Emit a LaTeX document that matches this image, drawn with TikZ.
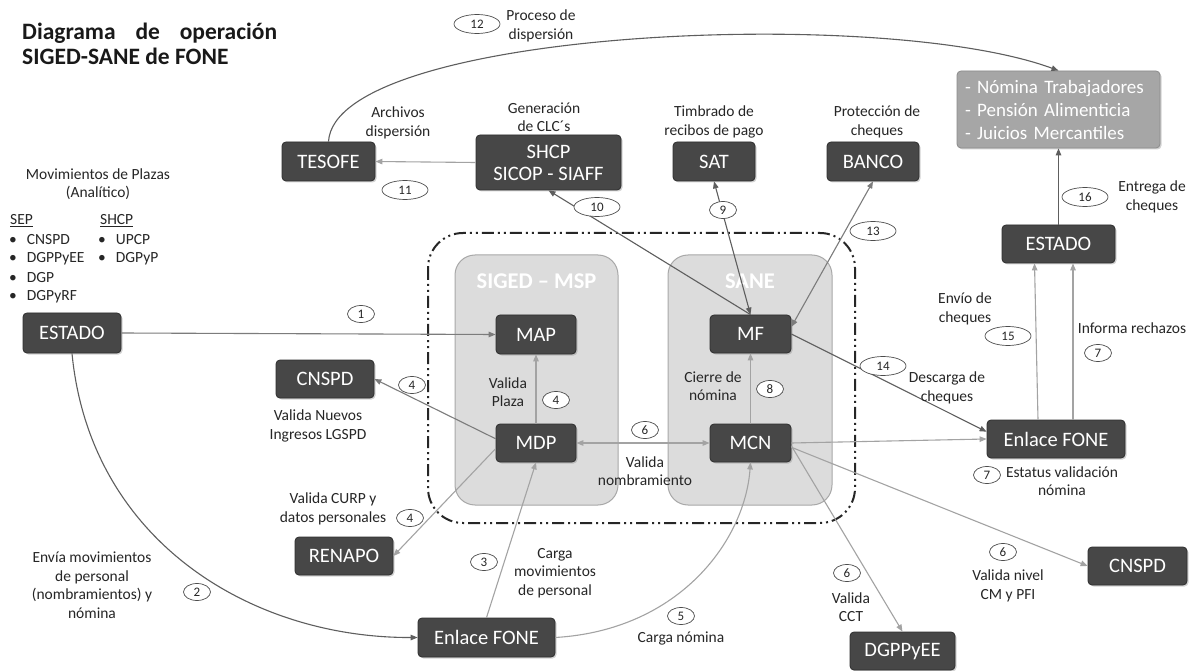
\documentclass[tikz,border=0pt]{standalone}
\usepackage{fontspec}
\setmainfont{Carlito}
\usetikzlibrary{arrows.meta,shapes.geometric,shadows,calc}
\definecolor{boxfill}{HTML}{474747}
\definecolor{boxdraw}{HTML}{2E2E2E}
\definecolor{panelfill}{HTML}{DCDCDC}
\definecolor{paneldraw}{HTML}{A8A8A8}
\definecolor{listfill}{HTML}{A6A6A6}
\definecolor{txt}{HTML}{262626}
\definecolor{darkline}{HTML}{5E5E5E}
\definecolor{midline}{HTML}{7C7C7C}
\definecolor{lightline}{HTML}{A3A3A3}
\begin{document}
\begin{tikzpicture}[x=1pt,y=-1pt,
  >={Triangle[length=7pt,width=5.5pt]},
  box/.style={rectangle,rounded corners=4pt,fill=boxfill,draw=boxdraw,line width=0.8pt,
    text=white,font=\fontsize{20.5}{22}\selectfont,inner sep=0pt,align=center,
    drop shadow={shadow xshift=1.5pt,shadow yshift=-1.5pt,opacity=0.35}},
  panel/.style={rectangle,rounded corners=20pt,fill=panelfill,draw=paneldraw,line width=1pt,inner sep=0pt},
  ptitle/.style={text=white,font=\bfseries\fontsize{22.5}{24}\selectfont,inner sep=0pt},
  lbl/.style={align=center,font=\fontsize{15.5}{18.5}\selectfont,text=txt,inner sep=0pt},
  num/.style={ellipse,draw=black!70,fill=white,line width=0.7pt,font=\fontsize{13}{13}\selectfont,
    text=txt,minimum width=27pt,minimum height=17pt,inner sep=0pt},
  numw/.style={num,minimum width=46pt,minimum height=19pt},
  ln/.style={line width=1.1pt},
  lnd/.style={ln,draw=darkline},
  lnm/.style={ln,draw=midline},
  lnl/.style={ln,draw=lightline},
]
\useasboundingbox (0,0) rectangle (1195,671);
\fill[white] (0,0) rectangle (1195,671);

% title
\node[anchor=base west,inner sep=0pt,font=\bfseries\fontsize{23.5}{25}\selectfont,text=black!90] (t1) at (22,40) {\makebox[255pt][s]{Diagrama de operación}};
\node[anchor=base west,inner sep=0pt,font=\bfseries\fontsize{23.5}{25}\selectfont,text=black!90] (t2) at (22,65) {SIGED-SANE de FONE};

% dash-dot frame and panels
\draw[line width=2pt,black!85,dash pattern=on 12pt off 4pt on 2pt off 4pt on 2pt off 4pt,rounded corners=35pt] (428,233) rectangle (855,523);
\node[panel,minimum width=163pt,minimum height=250pt] (p1) at (536.5,380) {};
\node[panel,minimum width=164pt,minimum height=250pt] (p2) at (750,380) {};
\node[ptitle] (p1t) at (536.5,281) {SIGED – MSP};
\node[ptitle] (p2t) at (750,281) {SANE};

% boxes
\node[box,minimum width=93pt,minimum height=39pt] (tesofe) at (328.5,161.5) {TESOFE};
\node[box,minimum width=145pt,minimum height=55pt,font=\fontsize{20.5}{22}\selectfont] (shcp) at (548.5,162.5) {SHCP\\SICOP - SIAFF};
\node[box,minimum width=82pt,minimum height=39pt] (sat) at (714,161.5) {SAT};
\node[box,minimum width=92pt,minimum height=39pt] (banco) at (873,161.5) {BANCO};
\node[box,fill=listfill,draw=black!45,minimum width=203pt,minimum height=77pt,align=left,
  font=\fontsize{19}{23}\selectfont,text width=187pt] (nom) at (1058.5,109.5) {- Nómina Trabajadores\\- Pensión Alimenticia\\- Juicios Mercantiles};
\node[box,minimum width=98pt,minimum height=40pt] (estL) at (72,333) {ESTADO};
\node[box,minimum width=98pt,minimum height=38pt] (cnspdL) at (325,379) {CNSPD};
\node[box,minimum width=98pt,minimum height=38pt] (renapo) at (344,556) {RENAPO};
\node[box,minimum width=137pt,minimum height=39pt] (enlB) at (486.5,637.5) {Enlace FONE};
\node[box,minimum width=80pt,minimum height=39pt] (map) at (536,334.5) {MAP};
\node[box,minimum width=80pt,minimum height=38pt] (mdp) at (536,443) {MDP};
\node[box,minimum width=81pt,minimum height=38pt] (mf) at (750.5,334) {MF};
\node[box,minimum width=81pt,minimum height=38pt] (mcn) at (750.5,443) {MCN};
\node[box,minimum width=113pt,minimum height=38pt] (estR) at (1058.5,244) {ESTADO};
\node[box,minimum width=138pt,minimum height=38pt] (enlR) at (1056,439) {Enlace FONE};
\node[box,minimum width=99pt,minimum height=38pt] (cnspdR) at (1137.5,566) {CNSPD};
\node[box,minimum width=105pt,minimum height=38pt] (dgpp) at (902.5,651) {DGPPyEE};

% connectors
\draw[lnd,->] (tesofe.north) .. controls (335,30) and (880,5) .. (nom.north);
\draw[lnl,->] (shcp.west) -- (tesofe.east);
\draw[lnd,->] (mf.north) -- (shcp.south);
\draw[lnd,<->] (mf.north) -- (sat.south);
\draw[lnm,<->] (mf.10) -- (banco.south);
\draw[lnd,->] (mf.east) -- (enlR.174);
\draw[lnm,->] (estL.east) -- (map.west);
\draw[lnd,->] (estL.south) .. controls (90,540) and (250,638) .. (enlB.west);
\draw[lnl,->] (enlB.north) -- (mdp.south);
\draw[lnl,->] (enlB.east) .. controls (680,630) and (745,540) .. (mcn.south);
\draw[lnl,->] (mdp.north) -- (map.south);
\draw[lnm,->] (mdp.174) -- (cnspdL.east);
\draw[lnl,->] (mdp.188) -- (renapo.east);
\draw[lnl,<->] (mdp.east) -- (mcn.west);
\draw[lnl,->] (mcn.north) -- (mf.south);
\draw[lnl,->] (mcn.east) -- (enlR.west);
\draw[lnl,->] (mcn.-6) -- (cnspdR.west);
\draw[lnl,->] (mcn.-4) -- (dgpp.north);
\draw[lnl,->] ($(enlR.north)+(-18,0)$) -- ($(estR.south)+(-24,0)$);
\draw[lnl,->] ($(enlR.north)+(17,0)$) -- ($(estR.south)+(14.5,0)$);
\draw[lnd,->] (estR.north) -- (nom.south);

% labels
\node[lbl] (lArch) at (398,123) {Archivos\\dispersión};
\node[lbl] (lGen) at (544,117) {Generación\\de CLC´s};
\node[lbl] (lTim) at (714,122) {Timbrado de\\recibos de pago};
\node[lbl] (lPro) at (877,122) {Protección de\\cheques};
\node[lbl] (lDis) at (541,26) {Proceso de\\dispersión};
\node[lbl] (lEnt) at (1152,197) {Entrega de\\cheques};
\node[lbl] (lMov) at (98,184) {Movimientos de Plazas\\(Analítico)};
\node[lbl] (lVN) at (318,426) {Valida Nuevos\\Ingresos LGSPD};
\node[lbl] (lVP) at (508,392) {Valida\\Plaza};
\node[lbl] (lCie) at (713,386) {Cierre de\\nómina};
\node[lbl] (lVNom) at (645,471) {Valida\\nombramiento};
\node[lbl] (lCurp) at (333,509) {Valida CURP y\\datos personales};
\node[lbl] (lEnv) at (92,585) {Envía movimientos\\de personal\\(nombramientos) y\\nómina};
\node[lbl] (lCM) at (555,573) {Carga\\movimientos\\de personal};
\node[lbl] (lCN) at (681,638) {Carga nómina};
\node[lbl] (lEC) at (965,309) {Envío de\\cheques};
\node[lbl] (lIR) at (1132,328) {Informa rechazos};
\node[lbl] (lDC) at (947,388) {Descarga de\\cheques};
\node[lbl] (lEV) at (1062,481) {Estatus validación\\nómina};
\node[lbl] (lVC) at (1008,586) {Valida nivel\\CM y PFI};
\node[lbl] (lCCT) at (851,607) {Valida\\CCT};

% lists
\node[lbl,anchor=west] (sep) at (10,221) {\underline{SEP}};
\node[lbl,anchor=west] (shcpl) at (100,221) {\underline{SHCP}};
\node[lbl,anchor=west] (b1) at (9,240) {•\hspace{10pt}CNSPD};
\node[lbl,anchor=west] (b2) at (9,259) {•\hspace{10pt}DGPPyEE};
\node[lbl,anchor=west] (b3) at (9,278) {•\hspace{10pt}DGP};
\node[lbl,anchor=west] (b4) at (9,297) {•\hspace{10pt}DGPyRF};
\node[lbl,anchor=west] (b5) at (98,240) {•\hspace{10pt}UPCP};
\node[lbl,anchor=west] (b6) at (98,259) {•\hspace{10pt}DGPyP};

% numbers
\node[numw] (n12) at (477,24) {12};
\node[numw] (n11) at (405,190) {11};
\node[numw] (n10) at (597,207) {10};
\node[num] (n9) at (723,210) {9};
\node[numw] (n13) at (873,231) {13};
\node[numw] (n16) at (1085,197) {16};
\node[num] (n1) at (361,314) {1};
\node[num] (n4a) at (412,385) {4};
\node[num] (n4b) at (556,400) {4};
\node[num] (n8) at (770,389) {8};
\node[num] (n6a) at (645,430) {6};
\node[num] (n4c) at (410,518) {4};
\node[num] (n2) at (197,592) {2};
\node[num] (n3) at (484,562) {3};
\node[num] (n5) at (681,616) {5};
\node[numw] (n15) at (1008,336) {15};
\node[num] (n7a) at (1098,353) {7};
\node[numw] (n14) at (883,366) {14};
\node[num] (n7b) at (987,475) {7};
\node[num] (n6b) at (1003,552) {6};
\node[num] (n6c) at (847,573) {6};
\end{tikzpicture}
\end{document}
